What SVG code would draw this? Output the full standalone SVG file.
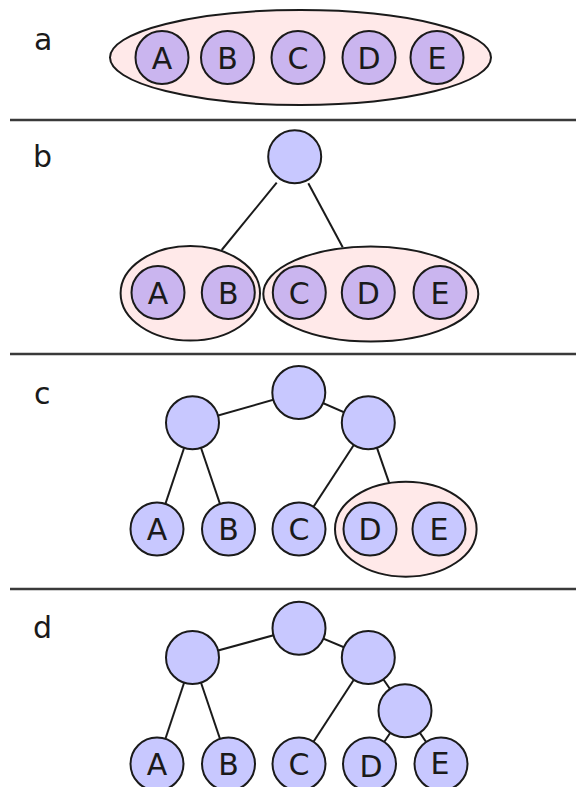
<svg xmlns="http://www.w3.org/2000/svg" width="576" height="787" viewBox="0 0 576 787">
<style>
.sep{stroke:#3a3a3a;stroke-width:2.5;fill:none}
.edge{stroke:#1a1a1a;stroke-width:2;fill:none}
.set{fill:#ffe9e9;stroke:#1a1a1a;stroke-width:2}
.leafp{fill:#cab5ef;stroke:#1a1a1a;stroke-width:2}
.node{fill:#c8c8ff;stroke:#1a1a1a;stroke-width:2}
.lbl{font-family:"DejaVu Sans",sans-serif;font-size:30px;fill:#1a1a1a;text-anchor:middle}
.plbl{font-family:"DejaVu Sans",sans-serif;font-size:30px;fill:#1a1a1a}
</style>
<rect width="576" height="787" fill="#ffffff"/>
<g id="separators">
<line class="sep" x1="10" y1="120" x2="576" y2="120"/>
<line class="sep" x1="10" y1="354" x2="576" y2="354"/>
<line class="sep" x1="10" y1="589" x2="576" y2="589"/>
</g>
<g id="panel-labels">
<text class="plbl" x="34" y="50">a</text>
<text class="plbl" x="33" y="167">b</text>
<text class="plbl" x="34" y="404">c</text>
<text class="plbl" x="33" y="638">d</text>
</g>
<g id="connectors">
<line class="edge" x1="276.7" y1="182.7" x2="221.7" y2="250"/>
<line class="edge" x1="308.3" y1="183.3" x2="342.7" y2="247.3"/>
<line class="edge" x1="298.8" y1="392.5" x2="192.5" y2="422.8"/>
<line class="edge" x1="298.8" y1="392.5" x2="368.3" y2="422.8"/>
<line class="edge" x1="192.5" y1="422.8" x2="157" y2="529"/>
<line class="edge" x1="192.5" y1="422.8" x2="228.5" y2="529"/>
<line class="edge" x1="368.3" y1="422.8" x2="299" y2="529"/>
<line class="edge" x1="368.3" y1="422.8" x2="389.3" y2="483.3"/>
<line class="edge" x1="299" y1="628.3" x2="192.5" y2="657.5"/>
<line class="edge" x1="299" y1="628.3" x2="368.3" y2="657.5"/>
<line class="edge" x1="192.5" y1="657.5" x2="157" y2="764"/>
<line class="edge" x1="192.5" y1="657.5" x2="228.5" y2="764"/>
<line class="edge" x1="368.3" y1="657.5" x2="299" y2="764"/>
<line class="edge" x1="368.3" y1="657.5" x2="405" y2="710.8"/>
<line class="edge" x1="405" y1="710.8" x2="369.5" y2="764"/>
<line class="edge" x1="405" y1="710.8" x2="441" y2="764"/>
</g>
<g id="a-set"><ellipse class="set" cx="300.5" cy="57.5" rx="190.5" ry="47.5"/></g>
<g id="a-A"><circle class="leafp" cx="162" cy="57.5" r="26.5"/><text class="lbl" x="162" y="68.5">A</text></g>
<g id="a-B"><circle class="leafp" cx="227.5" cy="57.5" r="26.5"/><text class="lbl" x="227.5" y="68.5">B</text></g>
<g id="a-C"><circle class="leafp" cx="298" cy="57.5" r="26.5"/><text class="lbl" x="298" y="68.5">C</text></g>
<g id="a-D"><circle class="leafp" cx="369" cy="57.5" r="26.5"/><text class="lbl" x="369" y="68.5">D</text></g>
<g id="a-E"><circle class="leafp" cx="437" cy="57.5" r="26.5"/><text class="lbl" x="437" y="68.5">E</text></g>
<g id="b-root"><circle class="node" cx="294.7" cy="156.7" r="26.5"/></g>
<g id="b-setAB"><ellipse class="set" cx="190.3" cy="293.3" rx="69.7" ry="47.3"/></g>
<g id="b-setCDE"><ellipse class="set" cx="370.8" cy="294" rx="107.5" ry="47.5"/></g>
<g id="b-A"><circle class="leafp" cx="158" cy="292.5" r="26.5"/><text class="lbl" x="158" y="303.5">A</text></g>
<g id="b-B"><circle class="leafp" cx="228.3" cy="292.5" r="26.5"/><text class="lbl" x="228.3" y="303.5">B</text></g>
<g id="b-C"><circle class="leafp" cx="299.3" cy="292.5" r="26.5"/><text class="lbl" x="299.3" y="303.5">C</text></g>
<g id="b-D"><circle class="leafp" cx="368.3" cy="292.5" r="26.5"/><text class="lbl" x="368.3" y="303.5">D</text></g>
<g id="b-E"><circle class="leafp" cx="440" cy="292.5" r="26.5"/><text class="lbl" x="440" y="303.5">E</text></g>
<g id="c-root"><circle class="node" cx="298.8" cy="392.5" r="26.5"/></g>
<g id="c-left"><circle class="node" cx="192.5" cy="422.8" r="26.5"/></g>
<g id="c-right"><circle class="node" cx="368.3" cy="422.8" r="26.5"/></g>
<g id="c-setDE"><ellipse class="set" cx="405.8" cy="529.2" rx="70.8" ry="47.5"/></g>
<g id="c-A"><circle class="node" cx="157" cy="529" r="26.5"/><text class="lbl" x="157" y="540">A</text></g>
<g id="c-B"><circle class="node" cx="228.5" cy="529" r="26.5"/><text class="lbl" x="228.5" y="540">B</text></g>
<g id="c-C"><circle class="node" cx="299" cy="529" r="26.5"/><text class="lbl" x="299" y="540">C</text></g>
<g id="c-D"><circle class="node" cx="370" cy="529" r="26.5"/><text class="lbl" x="370" y="540">D</text></g>
<g id="c-E"><circle class="node" cx="439" cy="529" r="26.5"/><text class="lbl" x="439" y="540">E</text></g>
<g id="d-root"><circle class="node" cx="299" cy="628.3" r="26.5"/></g>
<g id="d-left"><circle class="node" cx="192.5" cy="657.5" r="26.5"/></g>
<g id="d-right"><circle class="node" cx="368.3" cy="657.5" r="26.5"/></g>
<g id="d-sub"><circle class="node" cx="405" cy="710.8" r="26.5"/></g>
<g id="d-A"><circle class="node" cx="157" cy="764" r="26.5"/><text class="lbl" x="157" y="775">A</text></g>
<g id="d-B"><circle class="node" cx="228.5" cy="764" r="26.5"/><text class="lbl" x="228.5" y="775">B</text></g>
<g id="d-C"><circle class="node" cx="299" cy="764" r="26.5"/><text class="lbl" x="299" y="775">C</text></g>
<g id="d-D"><circle class="node" cx="369.5" cy="764" r="26.5"/><text class="lbl" x="371" y="777">D</text></g>
<g id="d-E"><circle class="node" cx="441" cy="764" r="26.5"/><text class="lbl" x="440" y="773.5">E</text></g>
</svg>
